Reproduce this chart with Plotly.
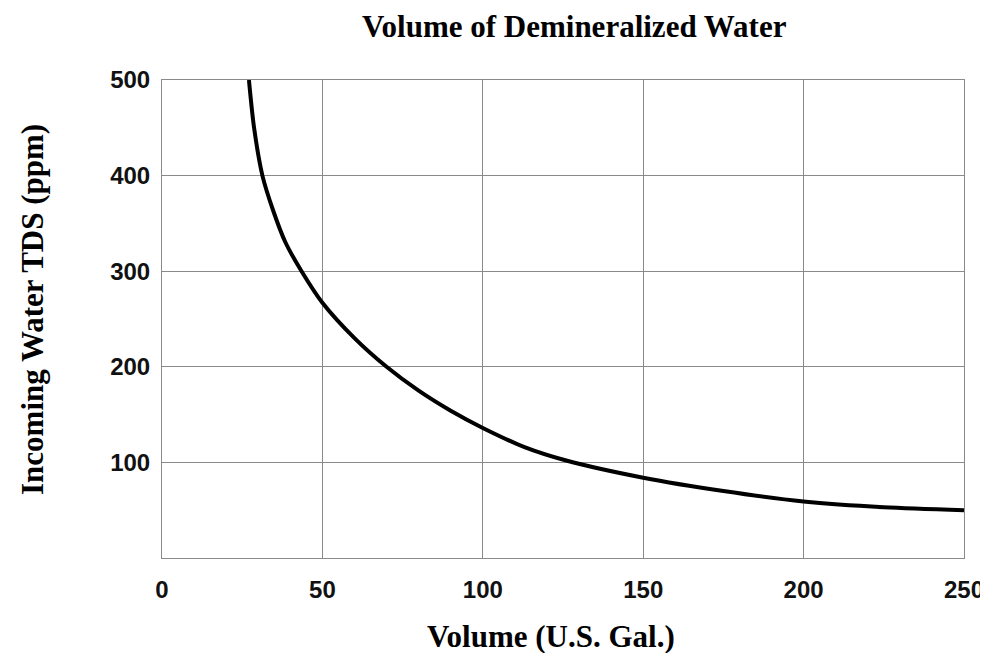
import plotly.graph_objects as go

# Data
volume_gal = [27.1, 28.7, 31.3, 34.7, 38.5, 43.5, 50, 60, 70, 80, 90, 100, 113, 126, 150, 175, 200, 225, 250]
tds_ppm = [500, 450, 400, 363, 330, 300, 267, 230, 200, 175, 154, 136, 116, 102, 84, 70, 59, 53, 50]

x_ticks = [0, 50, 100, 150, 200, 250]
y_ticks = [100, 200, 300, 400, 500]

chart_title = "Volume of Demineralized Water"
x_title = "Volume (U.S. Gal.)"
y_title = "Incoming Water TDS (ppm)"

# page body has an 8px default margin, so figure is 8px smaller and offset
OFF = 8
W, H = 988 - OFF, 653 - OFF
L, R, T, B = 162 - OFF, 988 - 964, 80 - OFF, 653 - 558

fig = go.Figure()
fig.add_trace(go.Scatter(
    x=volume_gal, y=tds_ppm, mode="lines",
    line=dict(color="black", width=4, shape="spline", smoothing=0.8),
    showlegend=False, hoverinfo="skip",
))

serif = "Liberation Serif, Times New Roman, serif"
sans = "Liberation Sans, Arial, sans-serif"
grid = "#8a8a8a"

fig.update_layout(
    width=W, height=H,
    margin=dict(l=L, r=R, t=T, b=B, autoexpand=False),
    paper_bgcolor="white", plot_bgcolor="white",
    showlegend=False,
)

fig.update_xaxes(
    range=[0, 250], tickvals=x_ticks, ticktext=[str(v) for v in x_ticks],
    showgrid=True, gridcolor=grid, gridwidth=1,
    showline=True, linecolor=grid, linewidth=1, mirror=True,
    zeroline=False, ticks="", ticklabelstandoff=10, automargin=False,
    tickfont=dict(family=sans, size=24, color="#111", weight="bold"),
)
fig.update_yaxes(
    range=[0, 500], tickvals=y_ticks, ticktext=[str(v) for v in y_ticks],
    showgrid=True, gridcolor=grid, gridwidth=1,
    showline=True, linecolor=grid, linewidth=1, mirror=True,
    zeroline=False, ticks="", ticklabelstandoff=6, automargin=False,
    tickfont=dict(family=sans, size=24, color="#111", weight="bold"),
)

pw = W - L - R
ph = H - T - B


def px(xp):
    return (xp - OFF - L) / pw


def py(yp):
    return (H - B - (yp - OFF)) / ph


fig.add_annotation(
    text=chart_title, xref="paper", yref="paper",
    x=px(574), y=py(26),
    xanchor="center", yanchor="middle", showarrow=False,
    font=dict(family=serif, size=31, color="black", weight="bold"),
)
fig.add_annotation(
    text=x_title, xref="paper", yref="paper",
    x=px(551), y=py(636),
    xanchor="center", yanchor="middle", showarrow=False,
    font=dict(family=serif, size=31, color="black", weight="bold"),
)
fig.add_annotation(
    text=y_title, xref="paper", yref="paper",
    x=px(32), y=py(310),
    xanchor="center", yanchor="middle", showarrow=False, textangle=-90,
    font=dict(family=serif, size=31, color="black", weight="bold"),
)

fig.write_html("out.html")
